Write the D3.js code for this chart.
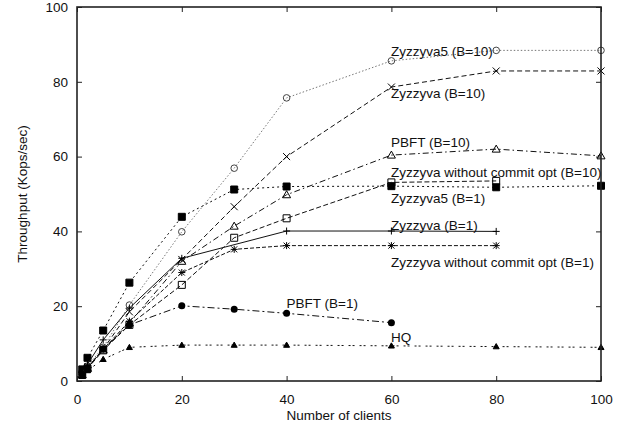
<!DOCTYPE html>
<html><head><meta charset="utf-8">
<script src="https://cdn.jsdelivr.net/npm/d3@7"></script>
<style>body{margin:0;background:#fff}text{font-family:"Liberation Sans",Arial,Helvetica,sans-serif;font-size:13.5px;fill:#111}</style>
</head><body><svg id="c" width="631" height="430"></svg>
<script>
const xTicks=[0,20,40,60,80,100];
const yTicks=[0,20,40,60,80,100];
const xAll=[1,2,5,10,20,30,40,60,80,100];
const zyz5B10=[2.0,4.0,9.0,20.3,39.9,56.9,75.7,85.6,88.4,88.4];
const zyzB10=[1.8,3.6,8.5,18.5,32.5,46.6,60.0,78.6,82.9,82.9];
const pbftB10=[1.7,3.4,8.3,15.5,32.0,41.4,49.8,60.4,62.0,60.2];
const nocB10=[3.1,6.2,13.5,26.3,43.9,51.2,52.0,52.1,51.8,52.2];
const xZyz5B1=[1,2,5,10,20,30,40,60,80];
const zyz5B1=[1.6,3.3,8.2,15.0,25.7,38.3,43.5,53.1,53.5];
const xZyzB1=[1,2,5,10,20,40,60,80];
const zyzB1=[2.2,4.5,11.0,19.5,32.8,40.1,40.1,40.0];
const xNocB1=[1,2,5,10,20,30,40,60,80];
const nocB1=[1.7,3.5,8.5,16.0,29.0,35.2,36.2,36.2,36.2];
const xPbftB1=[1,2,5,10,20,30,40,60];
const pbftB1=[1.8,3.5,8.6,15.0,20.1,19.2,18.1,15.6];
const hq=[1.3,2.8,5.8,9.0,9.6,9.6,9.6,9.4,9.2,9.0];
const labels=["Zyzzyva5 (B=10)","Zyzzyva (B=10)","PBFT (B=10)","Zyzzyva without commit opt (B=10)","Zyzzyva5 (B=1)","Zyzzyva (B=1)","Zyzzyva without commit opt (B=1)","PBFT (B=1)","HQ"];

const series=[
 {name:labels[0],xs:xAll,ys:zyz5B10,dash:"1.5,2",color:"#777",mark:"circle",mcol:"#444",lx:391,ly:56},
 {name:labels[1],xs:xAll,ys:zyzB10,dash:"5,3",color:"#111",mark:"times",lx:391,ly:98},
 {name:labels[2],xs:xAll,ys:pbftB10,dash:"6,3,1.5,3",color:"#111",mark:"triOpen",lx:391,ly:147},
 {name:labels[3],xs:xAll,ys:nocB10,dash:"2,3",color:"#111",mark:"squareFill",lx:391,ly:177},
 {name:labels[4],xs:xZyz5B1,ys:zyz5B1,dash:"5,2.5",color:"#111",mark:"squareOpen",lx:391,ly:203},
 {name:labels[5],xs:xZyzB1,ys:zyzB1,dash:null,color:"#111",mark:"plus",lx:391,ly:229.5},
 {name:labels[6],xs:xNocB1,ys:nocB1,dash:"4,2",color:"#111",mark:"star",lx:391,ly:267},
 {name:labels[7],xs:xPbftB1,ys:pbftB1,dash:"7,3,2,3",color:"#111",mark:"circleFill",lx:286.5,ly:307.5},
 {name:labels[8],xs:xAll,ys:hq,dash:"2,2,2,5",color:"#111",mark:"triFill",lx:391,ly:342}
];

const svg=d3.select("#c");
const L=77,R=601,T=7,B=381;
const x=d3.scaleLinear().domain([0,100]).range([L,R]);
const y=d3.scaleLinear().domain([0,100]).range([B,T]);

// axes with inward ticks
const ax=svg.append("g");
ax.append("g").attr("transform",`translate(0,${B})`).call(d3.axisBottom(x).tickValues(xTicks).tickSize(-5).tickPadding(10))
  .call(g=>{g.select(".domain").remove();g.selectAll("text").attr("dy","0.95em");});
ax.append("g").attr("transform",`translate(0,${T})`).call(d3.axisTop(x).tickValues(xTicks).tickSize(-5).tickFormat(""))
  .call(g=>g.select(".domain").remove());
ax.append("g").attr("transform",`translate(${L},0)`).call(d3.axisLeft(y).tickValues(yTicks).tickSize(-5).tickPadding(9))
  .call(g=>g.select(".domain").remove());
ax.append("g").attr("transform",`translate(${R},0)`).call(d3.axisRight(y).tickValues(yTicks).tickSize(-5).tickFormat(""))
  .call(g=>g.select(".domain").remove());
ax.selectAll(".tick line").attr("stroke","#222").attr("stroke-width",1);
ax.selectAll(".tick text").style("font-size","13.5px").style("font-family","'Liberation Sans',Arial,sans-serif").attr("fill","#111");

const line=d3.line().x(d=>x(d[0])).y(d=>y(d[1]));
function markPath(t,cx,cy){
  const s=3.5;
  switch(t){
   case "times": return `M${cx-3.5},${cy-3.5}L${cx+3.5},${cy+3.5}M${cx-3.5},${cy+3.5}L${cx+3.5},${cy-3.5}`;
   case "plus": return `M${cx-3.5},${cy}L${cx+3.5},${cy}M${cx},${cy-3.5}L${cx},${cy+3.5}`;
   case "star": return `M${cx-3.5},${cy}L${cx+3.5},${cy}M${cx},${cy-3.5}L${cx},${cy+3.5}M${cx-3},${cy-3}L${cx+3},${cy+3}M${cx-3},${cy+3}L${cx+3},${cy-3}`;
   case "squareOpen": case "squareFill": return `M${cx-s},${cy-s}h${2*s}v${2*s}h${-2*s}Z`;
   case "triOpen": return `M${cx},${cy-4}L${cx+4},${cy+3}L${cx-4},${cy+3}Z`;
   case "triFill": return `M${cx},${cy-3}L${cx+3},${cy+2.2}L${cx-3},${cy+2.2}Z`;
  }
}
series.forEach(s=>{
  const pts=s.xs.map((v,i)=>[v,s.ys[i]]);
  svg.append("path").datum(pts).attr("d",line).attr("fill","none").attr("stroke",s.color)
    .attr("stroke-width",1).attr("stroke-dasharray",s.dash);
  const g=svg.append("g");
  pts.forEach(p=>{
    const cx=x(p[0]),cy=y(p[1]);
    if(s.mark==="circle"){g.append("circle").attr("cx",cx).attr("cy",cy).attr("r",3.3).attr("fill","none").attr("stroke",s.mcol).attr("stroke-width",1);}
    else if(s.mark==="circleFill"){g.append("circle").attr("cx",cx).attr("cy",cy).attr("r",3.5).attr("fill","#000");}
    else{
      const fill=(s.mark==="squareFill"||s.mark==="triFill")?"#000":"none";
      g.append("path").attr("d",markPath(s.mark,cx,cy)).attr("fill",fill).attr("stroke","#000").attr("stroke-width",1);
    }
  });
  svg.append("text").attr("x",s.lx).attr("y",s.ly).text(s.name);
});

// frame
svg.append("rect").attr("x",L).attr("y",T).attr("width",R-L).attr("height",B-T).attr("fill","none").attr("stroke","#222").attr("stroke-width",1.6);

svg.append("text").attr("x",(L+R)/2).attr("y",420).attr("text-anchor","middle").text("Number of clients");
svg.append("text").attr("transform",`translate(27,${(T+B)/2}) rotate(-90)`).attr("text-anchor","middle").text("Throughput (Kops/sec)");
</script></body></html>
